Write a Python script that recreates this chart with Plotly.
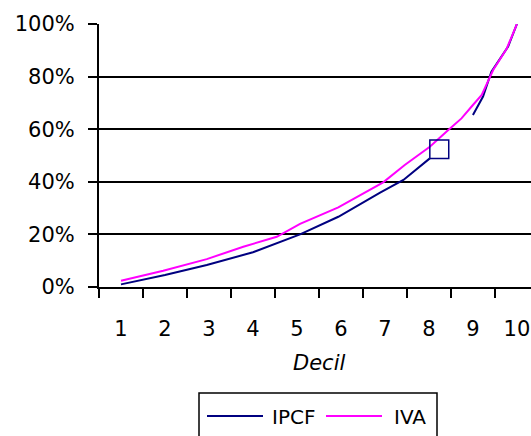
import plotly.graph_objects as go

# Data (x = decile position, y = cumulative share %)
ipcf_x_a = [1.0, 2.0, 2.95, 4.0, 5.07, 5.94, 6.89, 7.42, 8.02]
ipcf_y_a = [1.0, 4.6, 8.4, 13.2, 20.0, 26.7, 35.9, 40.7, 48.9]
ipcf_x_b = [9.0, 9.23, 9.42, 9.8, 10.0]
ipcf_y_b = [65.4, 72.4, 81.9, 91.4, 100.0]

iva_x = [1.0, 1.96, 2.95, 3.78, 4.54, 5.07, 5.94, 6.96, 7.45, 8.02, 8.44, 8.74, 9.0, 9.2, 9.46, 9.77, 10.0]
iva_y = [2.4, 6.2, 10.6, 15.3, 19.1, 24.0, 30.3, 39.8, 46.4, 53.3, 59.7, 64.1, 69.2, 73.0, 82.5, 90.7, 100.0]

box_x = [8.02, 8.45, 8.45, 8.02, 8.02]
box_y = [48.9, 48.9, 55.9, 55.9, 48.9]

categories = [1, 2, 3, 4, 5, 6, 7, 8, 9, 10]
cat_labels = [str(c) for c in categories]
y_ticks = [0, 20, 40, 60, 80, 100]
y_labels = [f"{v}%" for v in y_ticks]

NAVY = "#000080"
MAGENTA = "#FF00FF"
FONT = "DejaVu Sans, Arial, sans-serif"

fig = go.Figure()
fig.add_trace(go.Scatter(x=ipcf_x_a, y=ipcf_y_a, mode="lines", line=dict(color=NAVY, width=2), showlegend=False))
fig.add_trace(go.Scatter(x=ipcf_x_b, y=ipcf_y_b, mode="lines", line=dict(color=NAVY, width=2), showlegend=False))
fig.add_trace(go.Scatter(x=iva_x, y=iva_y, mode="lines", line=dict(color=MAGENTA, width=2), showlegend=False))
fig.add_trace(go.Scatter(x=box_x, y=box_y, mode="lines", line=dict(color=NAVY, width=1.5), showlegend=False))

W, H = 531, 436
L, T, B = 99, 24, 436 - 287
pw, ph = W - L, H - T - B

def px(x):
    return (x - L) / pw

def py(y):
    return (H - B - y) / ph

# manual legend
fig.add_shape(type="rect", xref="paper", yref="paper", x0=px(199), x1=px(437), y0=py(393), y1=py(460),
              line=dict(color="black", width=1.5), fillcolor="white", layer="above")
fig.add_shape(type="line", xref="paper", yref="paper", x0=px(207), x1=px(263), y0=py(416), y1=py(416),
              line=dict(color=NAVY, width=2))
fig.add_shape(type="line", xref="paper", yref="paper", x0=px(326), x1=px(382), y0=py(416), y1=py(416),
              line=dict(color=MAGENTA, width=2))
fig.add_annotation(xref="paper", yref="paper", x=px(270), y=py(417), text="IPCF", showarrow=False,
                   xanchor="left", yanchor="middle", font=dict(family=FONT, size=20, color="black"))
fig.add_annotation(xref="paper", yref="paper", x=px(392), y=py(417), text="IVA", showarrow=False,
                   xanchor="left", yanchor="middle", font=dict(family=FONT, size=20, color="black"))
fig.add_annotation(xref="paper", yref="paper", x=px(319), y=py(363), text="<i>Decil</i>", showarrow=False,
                   xanchor="center", yanchor="middle", font=dict(family=FONT, size=21, color="black"))

fig.update_layout(
    width=W, height=H,
    margin=dict(l=L, r=0, t=T, b=B, pad=0),
    paper_bgcolor="white", plot_bgcolor="white",
    font=dict(family=FONT, size=20, color="black"),
    xaxis=dict(
        range=[0.5, 10.32], tickvals=categories, ticktext=cat_labels,
        ticks="outside", ticklen=9, tickcolor="rgba(0,0,0,0)", ticklabelstandoff=13,
        tickfont=dict(size=21),
        showgrid=False, zeroline=False,
        showline=True, linecolor="black", linewidth=2,
        minor=dict(tick0=0.5, dtick=1, ticks="outside", ticklen=9, tickwidth=2, tickcolor="black", showgrid=False),
    ),
    yaxis=dict(
        range=[0, 100], tickvals=y_ticks, ticktext=y_labels,
        ticks="outside", ticklen=9, tickwidth=2, tickcolor="black", ticklabelstandoff=9,
        tickfont=dict(size=21),
        showgrid=True, gridcolor="black", gridwidth=2,
        zeroline=False, showline=True, linecolor="black", linewidth=2,
    ),
)

fig.write_html(
    "out.html",
    config={"displayModeBar": False},
    post_script="document.body.style.margin='0';document.body.style.overflow='hidden';",
)
